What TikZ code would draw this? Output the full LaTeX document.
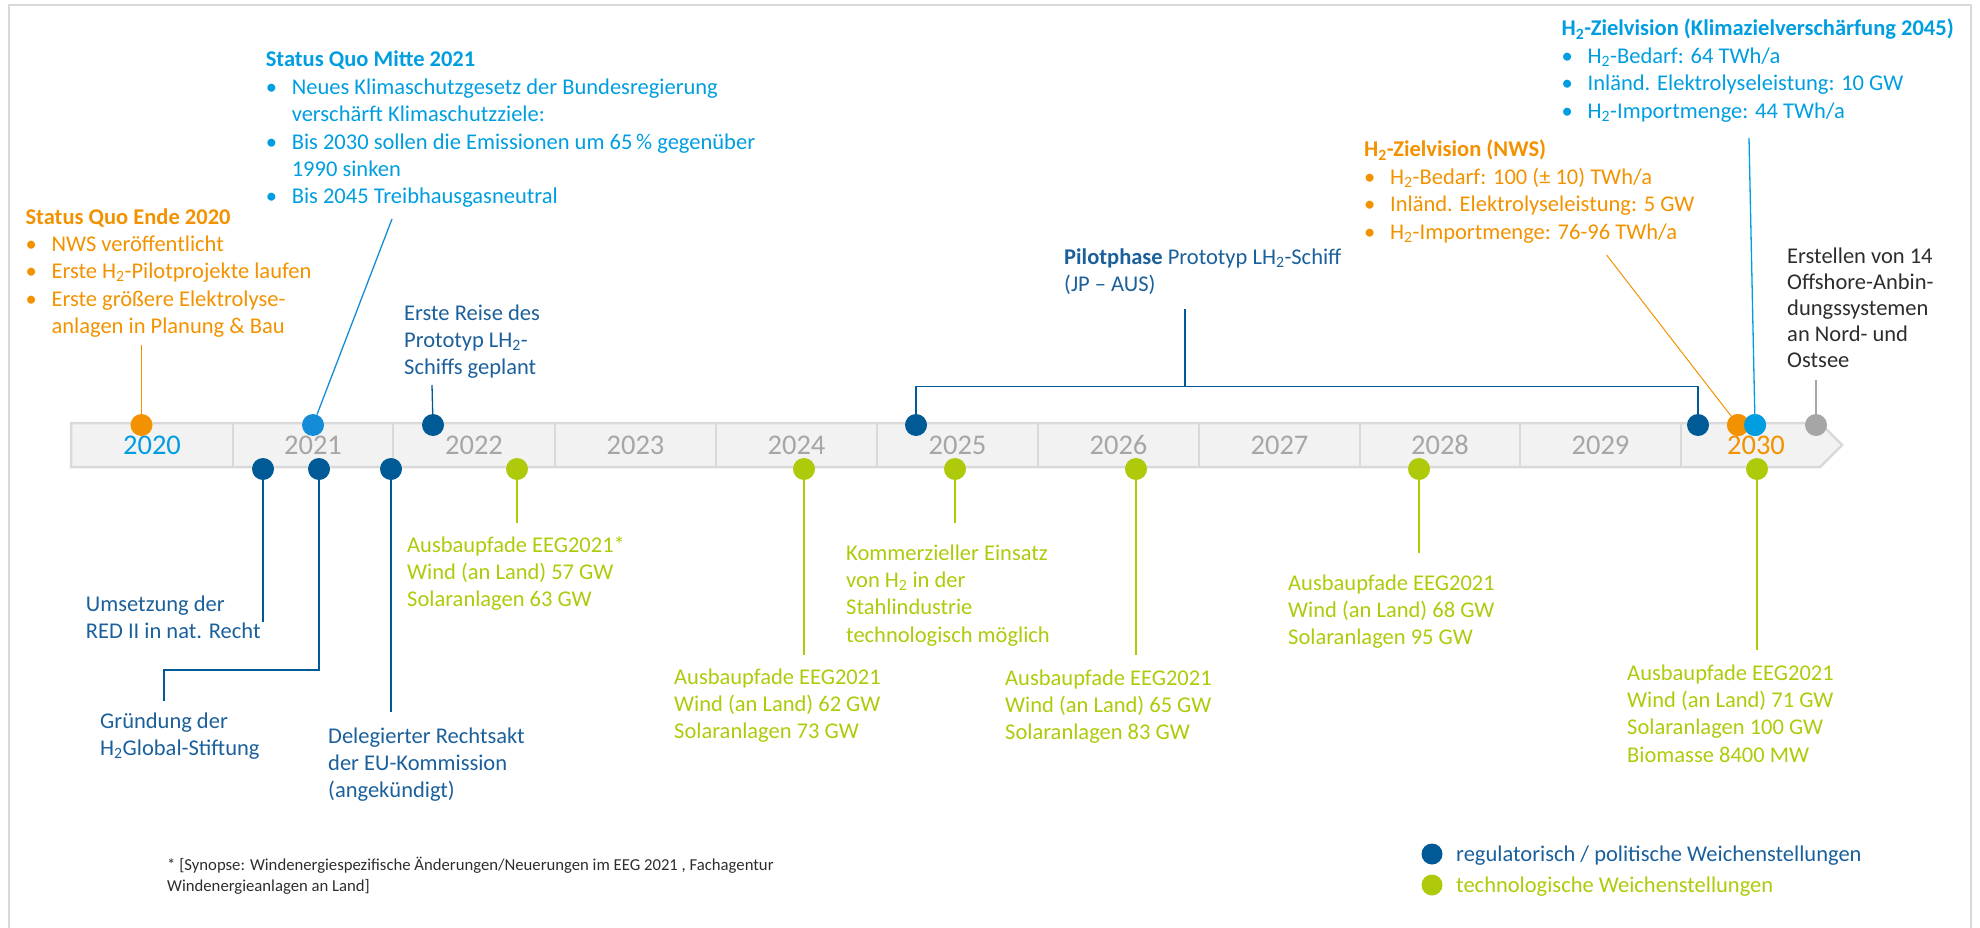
\documentclass[tikz,border=0pt]{standalone}
\usepackage{fontspec}
\setmainfont{Carlito}
\definecolor{dblue}{RGB}{0,90,150}
\definecolor{dbluetxt}{RGB}{27,96,155}
\definecolor{sky}{RGB}{0,158,224}
\definecolor{skydot}{RGB}{20,140,215}
\definecolor{orng}{RGB}{243,146,0}
\definecolor{lime}{RGB}{175,202,11}
\definecolor{gdot}{RGB}{166,166,166}
\definecolor{barfill}{RGB}{242,242,242}
\definecolor{barline}{RGB}{217,217,217}
\definecolor{framecol}{RGB}{217,217,217}
\definecolor{darktxt}{RGB}{45,45,45}
\newcommand{\mybul}{\makebox[26pt][l]{\textbullet}}
\newcommand{\myind}{\hspace*{26pt}}
\newcommand{\Hz}{H\textsubscript{2}}
\begin{document}
\begin{tikzpicture}[x=1pt,y=-1pt,
  txt/.style={anchor=base west, align=left, inner sep=0pt, font=\fontsize{22.5}{27.4}\selectfont},
  year/.style={anchor=center, inner sep=0pt, font=\fontsize{28.5}{30}\selectfont, text=gdot},
  dot/.style={circle, inner sep=0pt, minimum size=22pt, fill=#1},
  conn/.style={draw=#1, line width=1.3pt},
]
\useasboundingbox (0,0) rectangle (1980,928);
\draw[framecol, line width=2.5pt] (9,5) rectangle (1971,940);

% timeline bar
\filldraw[fill=barfill, draw=barline, line width=2.5pt]
  (71,423) -- (1820,423) -- (1842,445) -- (1820,467) -- (71,467) -- cycle;
\foreach \xx in {233,393,555,716,877,1038,1199,1360,1520,1681}
  \draw[barline, line width=2.5pt] (\xx,423) -- (\xx,467);

% years
\node[year, text=sky] (y2020) at (152,445) {2020};
\node[year] (y2021) at (313,445) {2021};
\node[year] (y2022) at (474,445) {2022};
\node[year] (y2023) at (635.5,445) {2023};
\node[year] (y2024) at (796.5,445) {2024};
\node[year] (y2025) at (957.5,445) {2025};
\node[year] (y2026) at (1118.5,445) {2026};
\node[year] (y2027) at (1279.5,445) {2027};
\node[year] (y2028) at (1440,445) {2028};
\node[year] (y2029) at (1600.5,445) {2029};
\node[year, text=orng] (y2030) at (1756,445) {2030};

% free ends of connectors
\coordinate (c20) at (141.5,345);
\coordinate (c21) at (392,219);
\coordinate (c22) at (432,385);
\coordinate (cpil) at (1185,309);
\coordinate (cbr) at (1185,386.7);
\coordinate (cnws) at (1606.6,255);
\coordinate (ckl) at (1749,138);
\coordinate (cgr) at (1816,380);
\coordinate (e1) at (263,622);
\coordinate (e2a) at (164,670);
\coordinate (e2b) at (164,701);
\coordinate (e3) at (391,712);
\coordinate (e4) at (517,523);
\coordinate (e5) at (804,655);
\coordinate (e6) at (955,523);
\coordinate (e7) at (1136,655);
\coordinate (e8) at (1419,553);
\coordinate (e9) at (1757,650);

% dots (top)
\node[dot=orng] (t1) at (141.5,425) {};
\node[dot=skydot] (t2) at (313,425) {};
\node[dot=dblue] (t3) at (433,425) {};
\node[dot=dblue] (t4) at (916,425) {};
\node[dot=dblue] (t5) at (1698,425) {};
\node[dot=orng] (t6) at (1738,425) {};
\node[dot=sky] (t7) at (1755,425) {};
\node[dot=gdot] (t8) at (1816,425) {};
% dots (bottom)
\node[dot=dblue] (b1) at (263,469) {};
\node[dot=dblue] (b2) at (319,469) {};
\node[dot=dblue] (b3) at (391,469) {};
\node[dot=lime] (b4) at (517,469) {};
\node[dot=lime] (b5) at (804,469) {};
\node[dot=lime] (b6) at (955,469) {};
\node[dot=lime] (b7) at (1136,469) {};
\node[dot=lime] (b8) at (1419,469) {};
\node[dot=lime] (b9) at (1757,469) {};

% connectors
\draw[conn=orng] (c20) -- (t1);
\draw[conn=skydot] (c21) -- (t2);
\draw[conn=dblue] (c22) -- (t3);
\draw[conn=dblue] (t4) |- (cbr) -| (t5);
\draw[conn=dblue] (cbr) -- (cpil);
\draw[conn=orng, line width=1pt] (cnws) -- (t6);
\draw[conn=sky] (ckl) -- (t7);
\draw[conn=gdot] (cgr) -- (t8);
\draw[conn=dblue] (b1) -- (e1);
\draw[conn=dblue] (b2) |- (e2a) -- (e2b);
\draw[conn=dblue] (b3) -- (e3);
\draw[conn=lime] (b4) -- (e4);
\draw[conn=lime] (b5) -- (e5);
\draw[conn=lime] (b6) -- (e6);
\draw[conn=lime] (b7) -- (e7);
\draw[conn=lime] (b8) -- (e8);
\draw[conn=lime] (b9) -- (e9);
% redraw overlapping dots on top
\node[dot=orng] at (t6) {};
\node[dot=sky] at (t7) {};

% texts above (anchor = baseline of the last line)
\node[txt, text=sky] (mitte) at (265.6,204) {{\bfseries Status Quo Mitte 2021}\\
\mybul Neues Klimaschutzgesetz der Bundesregierung\\
\myind verschärft Klimaschutzziele:\\
\mybul Bis 2030 sollen die Emissionen um 65\,\% gegenüber\\
\myind 1990 sinken\\
\mybul Bis 2045 Treibhausgasneutral};

\node[txt, text=orng] (ende) at (25.4,333.6) {{\bfseries Status Quo Ende 2020}\\
\mybul NWS veröffentlicht\\
\mybul Erste \Hz-Pilotprojekte laufen\\
\mybul Erste größere Elektrolyse-\\
\myind anlagen in Planung \& Bau};

\node[txt, text=dbluetxt] (reise) at (404,374.8) {Erste Reise des\\Prototyp L\Hz-\\Schiffs geplant};

\node[txt, text=dbluetxt] (pilot) at (1064,291.4) {{\bfseries Pilotphase} Prototyp L\Hz-Schiff\\(JP – AUS)};

\node[txt, text=orng] (nws) at (1364,239.2) {{\bfseries \Hz-Zielvision (NWS)}\\
\mybul \Hz-Bedarf: 100 (± 10) TWh/a\\
\mybul Inländ. Elektrolyseleistung: 5 GW\\
\mybul \Hz-Importmenge: 76-96 TWh/a};

\node[txt, text=sky] (klima) at (1561.5,118.2) {{\bfseries \Hz-Zielvision (Klimazielverschärfung 2045)}\\
\mybul \Hz-Bedarf: 64 TWh/a\\
\mybul Inländ. Elektrolyseleistung: 10 GW\\
\mybul \Hz-Importmenge: 44 TWh/a};

\node[txt, text=darktxt, font=\fontsize{22.5}{26.2}\selectfont] (offsh) at (1787,367.8) {Erstellen von 14\\Offshore-Anbin-\\dungssystemen\\an Nord- und\\Ostsee};

% texts below
\node[txt, text=dbluetxt] (umsetz) at (85.7,638.4) {Umsetzung der\\RED II in nat. Recht};
\node[txt, text=dbluetxt] (gruend) at (100,755.4) {Gründung der\\\Hz Global-Stiftung};
\node[txt, text=dbluetxt] (deleg) at (328,797.8) {Delegierter Rechtsakt\\der EU-Kommission\\(angekündigt)};
\node[txt, text=lime] (eeg22) at (407,606.8) {Ausbaupfade EEG2021*\\Wind (an Land) 57 GW\\Solaranlagen 63 GW};
\node[txt, text=lime] (eeg24) at (674,738.8) {Ausbaupfade EEG2021\\Wind (an Land) 62 GW\\Solaranlagen 73 GW};
\node[txt, text=lime] (komm) at (846,642.2) {Kommerzieller Einsatz\\von \Hz{} in der\\Stahlindustrie\\technologisch möglich};
\node[txt, text=lime] (eeg26) at (1005,739.8) {Ausbaupfade EEG2021\\Wind (an Land) 65 GW\\Solaranlagen 83 GW};
\node[txt, text=lime] (eeg28) at (1288,644.8) {Ausbaupfade EEG2021\\Wind (an Land) 68 GW\\Solaranlagen 95 GW};
\node[txt, text=lime] (eeg30) at (1627,762.2) {Ausbaupfade EEG2021\\Wind (an Land) 71 GW\\Solaranlagen 100 GW\\Biomasse 8400 MW};

% legend
\node[dot=dblue, minimum size=21pt] (lg1) at (1432,854) {};
\node[dot=lime, minimum size=21pt] (lg2) at (1432,885) {};
\node[txt, text=dbluetxt] (lt1) at (1456,861) {regulatorisch / politische Weichenstellungen};
\node[txt, text=lime] (lt2) at (1456,892) {technologische Weichenstellungen};

% footnote
\node[txt, text=darktxt, font=\fontsize{16.7}{21}\selectfont] (fn) at (167,891) {* [Synopse: Windenergiespezifische Änderungen/Neuerungen im EEG 2021 , Fachagentur\\Windenergieanlagen an Land]};
\end{tikzpicture}
\end{document}
